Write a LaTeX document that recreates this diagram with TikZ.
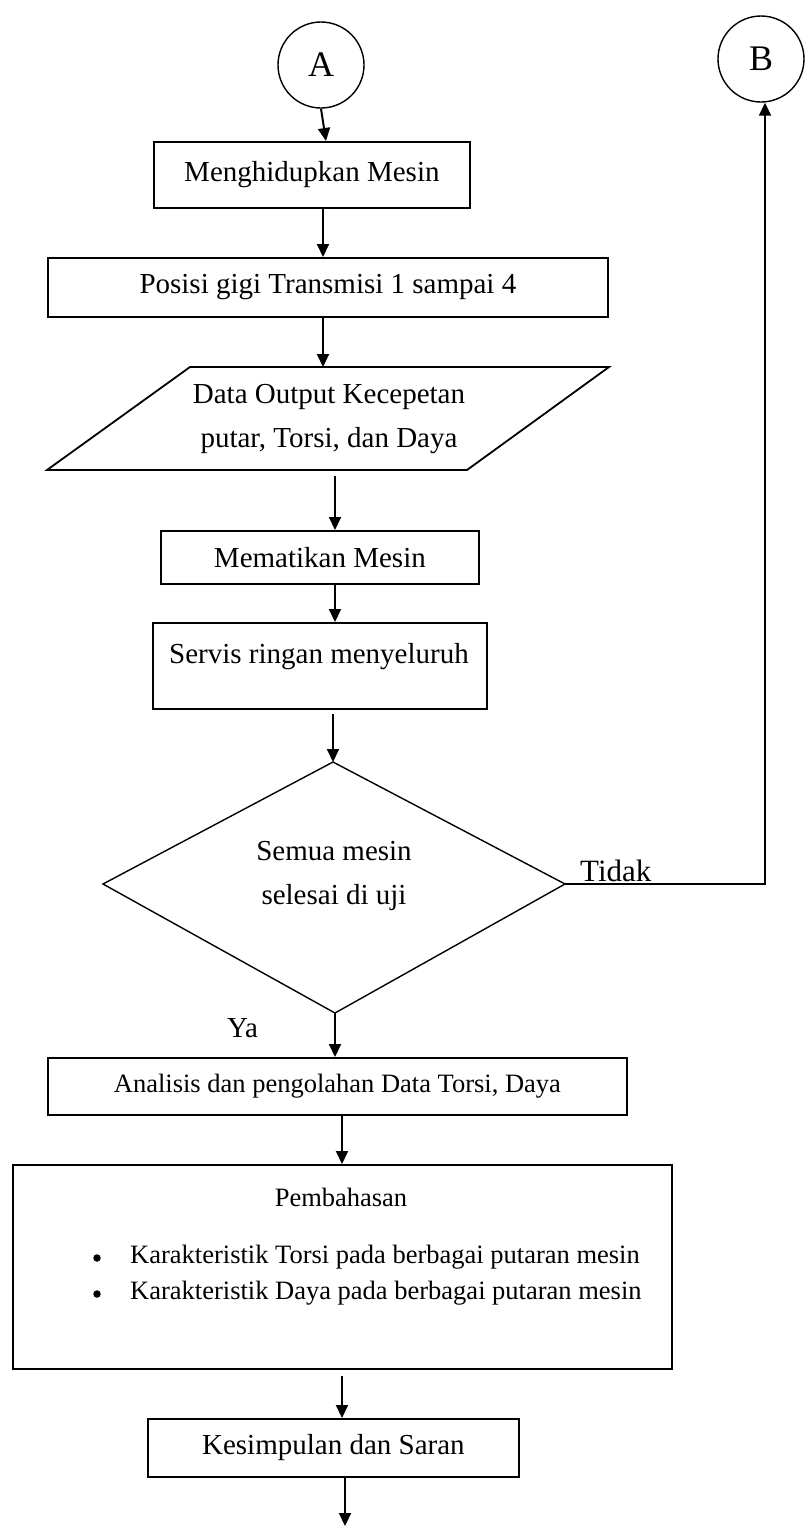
\documentclass[tikz,border=0pt]{standalone}
\usepackage{fontspec}
\setmainfont{Liberation Serif}
\usetikzlibrary{arrows.meta,shapes.geometric}
\tikzset{
  box/.style={draw, line width=1.8pt, inner sep=0pt, anchor=north west},
  txt/.style={font=\fontsize{29}{44}\selectfont, align=center, inner sep=0pt},
  stxt/.style={font=\fontsize{26.5}{36}\selectfont, inner sep=0pt},
  conn/.style={draw, circle, line width=1.4pt, minimum size=86pt, inner sep=0pt, font=\fontsize{36}{40}\selectfont},
  arr/.style={line width=2pt, -{Triangle[length=13pt,width=12pt]}},
  shp/.style={draw, line width=1.4pt, line join=miter},
  dot/.style={circle, fill, inner sep=0pt, minimum size=7.5pt}
}
\begin{document}
\begin{tikzpicture}[x=1pt,y=-1pt]
\useasboundingbox (0,0) rectangle (809,1526);
% connectors A and B
\node[conn] (A) at (321,65) {A};
\node[conn] (B) at (761,59) {B};
% boxes
\node[box, minimum width=316pt, minimum height=66pt] (b1) at (153,141) {};
\node[txt] (t1) at (b1.center) {Menghidupkan Mesin};
\node[box, minimum width=560pt, minimum height=59pt] (b2) at (47,257) {};
\node[txt] (t2) at (b2.center) {Posisi gigi Transmisi 1 sampai 4};
% parallelogram
\coordinate (p1) at (190,367);
\coordinate (p2) at (609,367);
\coordinate (p3) at (467,470);
\coordinate (p4) at (47,470);
\draw[shp, line width=1.8pt] (p1) -- (p2) -- (p3) -- (p4) -- cycle;
\node[txt] (pt) at (329,419) {Data Output Kecepetan\\putar, Torsi, dan Daya};
\coordinate (pbot) at (335,476);
\coordinate (ptop) at (323,367);
\node[box, minimum width=318pt, minimum height=53pt] (b3) at (160,530) {};
\node[txt] (t3) at (b3.center) {Mematikan Mesin};
\node[box, minimum width=334pt, minimum height=86pt] (b4) at (152,622) {};
\node[txt] (t4) at (319,657) {Servis ringan menyeluruh};
\coordinate (b4out) at (333,714);
% diamond
\coordinate (dt) at (333,762);
\coordinate (dl) at (103,884);
\coordinate (dr) at (565,884);
\coordinate (db) at (335,1013);
\draw[shp] (dt) -- (dr) -- (db) -- (dl) -- cycle;
\node[txt] (dtx) at (334,876) {Semua mesin\\selesai di uji};
\node[txt, anchor=base west, font=\fontsize{31}{36}\selectfont] (tidak) at (580,881) {Tidak};
\node[txt, anchor=base west] (ya) at (227,1037) {Ya};
\node[box, minimum width=579pt, minimum height=57pt] (b5) at (47,1057) {};
\node[stxt] (t5) at (b5.center) {Analisis dan pengolahan Data Torsi, Daya};
\node[box, minimum width=659pt, minimum height=204pt] (b6) at (12,1164) {};
\node[stxt] (t6) at (341,1197) {Pembahasan};
\node[dot] (bu1) at (97,1258) {};
\node[stxt, anchor=west] (l1) at (130,1257) {Karakteristik Torsi pada berbagai putaran mesin};
\node[dot] (bu2) at (97,1294) {};
\node[stxt, anchor=west] (l2) at (130,1293) {Karakteristik Daya pada berbagai putaran mesin};
\node[box, minimum width=371pt, minimum height=58pt] (b7) at (147,1418) {};
\node[txt] (t7) at (b7.center) {Kesimpulan dan Saran};
\coordinate (endpt) at (345,1526);
% arrows
\draw[arr] (A.south) -- (b1.north -| 326,0);
\draw[arr] (b1.south -| 323,0) -- (b2.north -| 323,0);
\draw[arr] (b2.south -| 323,0) -- (ptop);
\draw[arr] (pbot) -- (b3.north -| pbot);
\draw[arr] (b3.south -| 335,0) -- (b4.north -| 335,0);
\draw[arr] (b4out) -- (dt);
\draw[arr] (db) -- (b5.north -| db);
\draw[arr] (dr) -- (765,884) -- (B.south -| 765,0);
\draw[arr] (b5.south -| 342,0) -- (b6.north -| 342,0);
\draw[arr] (342,1376) -- (b7.north -| 342,0);
\draw[arr] (b7.south -| 345,0) -- (endpt);
\end{tikzpicture}
\end{document}
